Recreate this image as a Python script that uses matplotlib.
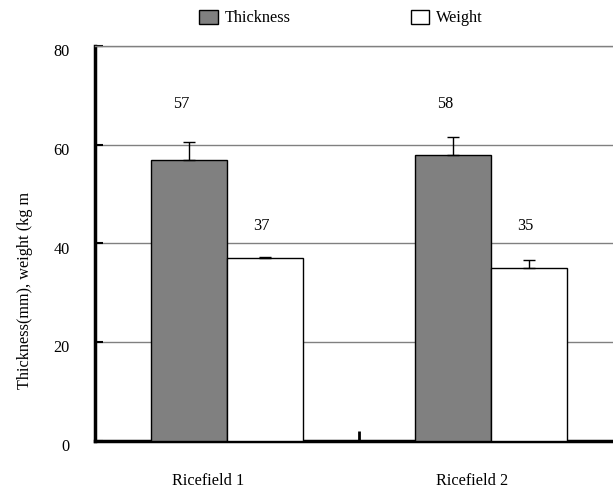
import numpy as np
import matplotlib.pyplot as plt
import matplotlib.transforms as mtransforms
from matplotlib.patches import Patch

plt.rcParams['font.family'] = ['Liberation Serif', 'DejaVu Serif']

# data
fields = ['Ricefield 1', 'Ricefield 2']
thickness = np.array([57, 58])
weight = np.array([37, 35])
thickness_err = np.array([3.6, 3.6])
weight_err = np.array([0.3, 1.6])

fs = 11.7

fig = plt.figure(figsize=(6.13, 4.88), dpi=100)
ax = fig.add_axes([95 / 613, 1 - 441 / 488, 528 / 613, 395 / 488])

x = np.arange(len(fields))
w = 0.288

err_kw = dict(ecolor='black', elinewidth=1, capsize=4, capthick=1)
ax.bar(x - w / 2, thickness, w, color='#808080', edgecolor='black', linewidth=1,
       yerr=[np.zeros_like(thickness_err), thickness_err], error_kw=err_kw, zorder=3)
ax.bar(x + w / 2, weight, w, color='white', edgecolor='black', linewidth=1,
       yerr=[np.zeros_like(weight_err), weight_err], error_kw=err_kw, zorder=3)

# value labels
for i in range(len(fields)):
    ax.text(x[i] - w / 2 - 0.03, 68.2, str(thickness[i]), ha='center', va='center', fontsize=fs)
    ax.text(x[i] + w / 2 - 0.015, 43.5, str(weight[i]), ha='center', va='center', fontsize=fs)

ax.set_xlim(-0.5, 1.5)
ax.set_ylim(0, 80)
ax.set_yticks([0, 20, 40, 60, 80])
ax.tick_params(axis='y', direction='in', length=6, width=1.5, pad=18, labelsize=fs)
ax.yaxis.grid(True, color='#808080', linewidth=1)
ax.set_axisbelow(True)
# y labels sit a little below their ticks in the original
for lab in ax.get_yticklabels():
    lab.set_transform(lab.get_transform() + mtransforms.ScaledTranslation(0, -3 / 72, fig.dpi_scale_trans))

ax.set_xticks([-0.5, 0.5, 1.5])
ax.set_xticklabels([])
ax.tick_params(axis='x', which='major', direction='in', length=7, width=2)
ax.set_xticks(x - 0.07, minor=True)
ax.set_xticklabels(fields, minor=True, fontsize=fs)
ax.tick_params(axis='x', which='minor', length=0, pad=23)

for s in ['left', 'bottom']:
    ax.spines[s].set_linewidth(2.5)
    ax.spines[s].set_color('black')
ax.spines['top'].set_color('#808080')
ax.spines['top'].set_linewidth(1)
ax.spines['right'].set_visible(False)

fig.text(25 / 613, 1 - 290 / 488, 'Thickness(mm), weight (kg m', rotation=90,
         ha='center', va='center', fontsize=fs)

handles = [Patch(facecolor='#808080', edgecolor='black', label='Thickness'),
           Patch(facecolor='white', edgecolor='black', label='Weight')]
fig.legend(handles=handles, loc='center', bbox_to_anchor=(341 / 613, 1 - 18 / 488),
           ncol=2, frameon=False, fontsize=fs, handlelength=1.15, handleheight=1.0,
           handletextpad=0.39, columnspacing=7.4, borderpad=0.1)

fig.savefig('out.png', dpi=100)
